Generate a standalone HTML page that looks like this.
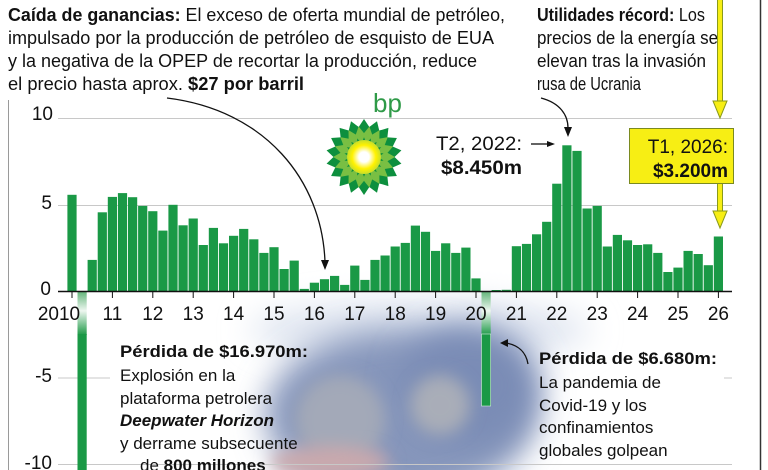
<!DOCTYPE html>
<html><head><meta charset="utf-8"><style>
html,body{margin:0;padding:0;background:#fff;overflow:hidden;width:768px;height:470px;}
svg{display:block;font-family:"Liberation Sans",Arial,sans-serif;}
</style></head><body>
<svg width="768" height="470" viewBox="0 0 768 470" xmlns="http://www.w3.org/2000/svg">
<defs>
<filter id="blur" x="-50%" y="-50%" width="200%" height="200%"><feGaussianBlur stdDeviation="16"/></filter>
<filter id="blur2" x="-50%" y="-50%" width="200%" height="200%"><feGaussianBlur stdDeviation="8"/></filter>
<linearGradient id="neg" x1="0" y1="0" x2="0" y2="1">
<stop offset="0" stop-color="#5fb377"/><stop offset="0.45" stop-color="#eef7f0"/><stop offset="1" stop-color="#1f9a48"/>
</linearGradient>
<radialGradient id="sun" cx="0.5" cy="0.5" r="0.5">
<stop offset="0.3" stop-color="#ffffff"/><stop offset="0.7" stop-color="#fff200"/><stop offset="1" stop-color="#c7de2a"/>
</radialGradient>
<path id="p1" d="M0,-20 L6,-29 L0,-38 L-6,-29 Z" fill="#0d8f3e"/>
<path id="p2" d="M0,-14 L5,-22 L0,-31 L-5,-22 Z" fill="#79bf43"/>
</defs>

<!-- smoke -->
<g>
<ellipse cx="420" cy="330" rx="170" ry="30" fill="#dfe5f0" filter="url(#blur)"/>
<ellipse cx="400" cy="415" rx="135" ry="85" fill="#8696bb" filter="url(#blur)"/>
<ellipse cx="470" cy="385" rx="70" ry="60" fill="#7a8cb6" filter="url(#blur)"/>
<ellipse cx="340" cy="420" rx="45" ry="45" fill="#a3a9b8" filter="url(#blur2)"/>
<ellipse cx="440" cy="405" rx="30" ry="30" fill="#a9adb8" filter="url(#blur2)"/>
<ellipse cx="330" cy="462" rx="60" ry="16" fill="#c9a9ad" filter="url(#blur2)"/>
</g>

<!-- frame -->
<line x1="8.5" y1="100" x2="8.5" y2="470" stroke="#9a9a9a" stroke-width="1"/>
<line x1="760.5" y1="0" x2="760.5" y2="470" stroke="#333" stroke-width="1.5"/>

<!-- grid -->
<g stroke="#c8c8c8" stroke-width="1">
<line x1="58" y1="118.5" x2="732" y2="118.5"/>
<line x1="58" y1="205.5" x2="732" y2="205.5"/>
<line x1="58" y1="378" x2="110" y2="378"/>
<line x1="724" y1="378" x2="732" y2="378"/>
<line x1="58" y1="464.5" x2="732" y2="464.5"/>
</g>

<!-- y labels -->
<g font-size="19" fill="#111" text-anchor="end">
<text x="53" y="120">10</text>
<text x="52" y="209">5</text>
<text x="51" y="295">0</text>
<text x="52" y="382">-5</text>
<text x="52" y="469">-10</text>
</g>

<!-- logo -->
<g transform="translate(364,157)">
<circle r="24" fill="#0d8f3e"/>
<use href="#p1"/><use href="#p1" transform="rotate(20)"/><use href="#p1" transform="rotate(40)"/><use href="#p1" transform="rotate(60)"/><use href="#p1" transform="rotate(80)"/><use href="#p1" transform="rotate(100)"/><use href="#p1" transform="rotate(120)"/><use href="#p1" transform="rotate(140)"/><use href="#p1" transform="rotate(160)"/><use href="#p1" transform="rotate(180)"/><use href="#p1" transform="rotate(200)"/><use href="#p1" transform="rotate(220)"/><use href="#p1" transform="rotate(240)"/><use href="#p1" transform="rotate(260)"/><use href="#p1" transform="rotate(280)"/><use href="#p1" transform="rotate(300)"/><use href="#p1" transform="rotate(320)"/><use href="#p1" transform="rotate(340)"/>
<g transform="rotate(10)">
<use href="#p2"/><use href="#p2" transform="rotate(20)"/><use href="#p2" transform="rotate(40)"/><use href="#p2" transform="rotate(60)"/><use href="#p2" transform="rotate(80)"/><use href="#p2" transform="rotate(100)"/><use href="#p2" transform="rotate(120)"/><use href="#p2" transform="rotate(140)"/><use href="#p2" transform="rotate(160)"/><use href="#p2" transform="rotate(180)"/><use href="#p2" transform="rotate(200)"/><use href="#p2" transform="rotate(220)"/><use href="#p2" transform="rotate(240)"/><use href="#p2" transform="rotate(260)"/><use href="#p2" transform="rotate(280)"/><use href="#p2" transform="rotate(300)"/><use href="#p2" transform="rotate(320)"/><use href="#p2" transform="rotate(340)"/>
</g>
<circle r="17" fill="url(#sun)"/>
</g>
<text x="373" y="112" font-size="26" fill="#2f9a48">bp</text>

<!-- positive bars -->
<g transform="translate(0,291) scale(1,-1)" fill="#1a9946">
<rect x="67.4" y="0" width="9.2" height="96.2"/>
<rect x="87.6" y="0" width="9.2" height="31.1"/>
<rect x="97.7" y="0" width="9.2" height="78.7"/>
<rect x="107.8" y="0" width="9.2" height="94.1"/>
<rect x="117.9" y="0" width="9.2" height="97.9"/>
<rect x="128.0" y="0" width="9.2" height="93.8"/>
<rect x="138.1" y="0" width="9.2" height="85.1"/>
<rect x="148.2" y="0" width="9.2" height="79.8"/>
<rect x="158.3" y="0" width="9.2" height="60.4"/>
<rect x="168.4" y="0" width="9.2" height="86.2"/>
<rect x="178.5" y="0" width="9.2" height="65.7"/>
<rect x="188.6" y="0" width="9.2" height="72.5"/>
<rect x="198.7" y="0" width="9.2" height="46.0"/>
<rect x="208.8" y="0" width="9.2" height="63.1"/>
<rect x="218.9" y="0" width="9.2" height="47.7"/>
<rect x="229.0" y="0" width="9.2" height="55.2"/>
<rect x="239.1" y="0" width="9.2" height="62.1"/>
<rect x="249.2" y="0" width="9.2" height="51.7"/>
<rect x="259.3" y="0" width="9.2" height="38.1"/>
<rect x="269.4" y="0" width="9.2" height="43.8"/>
<rect x="279.5" y="0" width="9.2" height="22.0"/>
<rect x="289.6" y="0" width="9.2" height="30.4"/>
<rect x="299.7" y="0" width="9.2" height="2.1"/>
<rect x="309.8" y="0" width="9.2" height="8.3"/>
<rect x="319.9" y="0" width="9.2" height="11.8"/>
<rect x="330.0" y="0" width="9.2" height="15.1"/>
<rect x="340.1" y="0" width="9.2" height="6.1"/>
<rect x="350.2" y="0" width="9.2" height="25.4"/>
<rect x="360.3" y="0" width="9.2" height="11.1"/>
<rect x="370.4" y="0" width="9.2" height="31.1"/>
<rect x="380.5" y="0" width="9.2" height="35.5"/>
<rect x="390.6" y="0" width="9.2" height="44.5"/>
<rect x="400.7" y="0" width="9.2" height="48.1"/>
<rect x="410.8" y="0" width="9.2" height="65.4"/>
<rect x="420.9" y="0" width="9.2" height="59.2"/>
<rect x="431.0" y="0" width="9.2" height="40.1"/>
<rect x="441.1" y="0" width="9.2" height="47.7"/>
<rect x="451.2" y="0" width="9.2" height="38.1"/>
<rect x="461.3" y="0" width="9.2" height="43.4"/>
<rect x="471.4" y="0" width="9.2" height="12.6"/>
<rect x="491.6" y="0" width="9.2" height="1"/>
<rect x="501.7" y="0" width="9.2" height="1.2"/>
<rect x="511.8" y="0" width="9.2" height="44.8"/>
<rect x="521.9" y="0" width="9.2" height="47.1"/>
<rect x="532.0" y="0" width="9.2" height="56.7"/>
<rect x="542.1" y="0" width="9.2" height="69.2"/>
<rect x="552.2" y="0" width="9.2" height="107.3"/>
<rect x="562.3" y="0" width="9.2" height="145.7"/>
<rect x="572.4" y="0" width="9.2" height="140.1"/>
<rect x="582.5" y="0" width="9.2" height="82.5"/>
<rect x="592.6" y="0" width="9.2" height="85.1"/>
<rect x="602.7" y="0" width="9.2" height="44.5"/>
<rect x="612.8" y="0" width="9.2" height="56.1"/>
<rect x="622.9" y="0" width="9.2" height="50.7"/>
<rect x="633.0" y="0" width="9.2" height="46.0"/>
<rect x="643.1" y="0" width="9.2" height="46.7"/>
<rect x="653.2" y="0" width="9.2" height="38.1"/>
<rect x="663.3" y="0" width="9.2" height="19.0"/>
<rect x="673.4" y="0" width="9.2" height="23.4"/>
<rect x="683.5" y="0" width="9.2" height="40.1"/>
<rect x="693.6" y="0" width="9.2" height="37.0"/>
<rect x="703.7" y="0" width="9.2" height="25.8"/>
<rect x="713.8" y="0" width="9.2" height="54.5"/>
</g>

<!-- negative bars -->
<rect x="77.5" y="291" width="9.2" height="44" fill="url(#neg)"/>
<rect x="77.5" y="334" width="9.2" height="136" fill="#1a9946"/>
<rect x="481.5" y="291" width="9.2" height="44" fill="url(#neg)"/>
<rect x="481.5" y="334" width="9.2" height="72" fill="#1a9946" stroke="#d8efe0" stroke-width="0.6"/>

<!-- axis -->
<line x1="58" y1="291.5" x2="732" y2="291.5" stroke="#111" stroke-width="1.5"/>
<g stroke="#111" stroke-width="1">
<line x1="72" y1="292" x2="72" y2="298"/><line x1="112.4" y1="292" x2="112.4" y2="298"/><line x1="152.8" y1="292" x2="152.8" y2="298"/><line x1="193.2" y1="292" x2="193.2" y2="298"/><line x1="233.6" y1="292" x2="233.6" y2="298"/><line x1="274" y1="292" x2="274" y2="298"/><line x1="314.4" y1="292" x2="314.4" y2="298"/><line x1="354.8" y1="292" x2="354.8" y2="298"/><line x1="395.2" y1="292" x2="395.2" y2="298"/><line x1="435.6" y1="292" x2="435.6" y2="298"/><line x1="476" y1="292" x2="476" y2="298"/><line x1="516.4" y1="292" x2="516.4" y2="298"/><line x1="556.8" y1="292" x2="556.8" y2="298"/><line x1="597.2" y1="292" x2="597.2" y2="298"/><line x1="637.6" y1="292" x2="637.6" y2="298"/><line x1="678" y1="292" x2="678" y2="298"/><line x1="718.4" y1="292" x2="718.4" y2="298"/>
</g>
<g font-size="19" fill="#111" text-anchor="middle">
<text x="59" y="320">2010</text>
<text x="112.4" y="320">11</text><text x="152.8" y="320">12</text><text x="193.2" y="320">13</text><text x="233.6" y="320">14</text><text x="274" y="320">15</text><text x="314.4" y="320">16</text><text x="354.8" y="320">17</text><text x="395.2" y="320">18</text><text x="435.6" y="320">19</text><text x="476" y="320">20</text><text x="516.4" y="320">21</text><text x="556.8" y="320">22</text><text x="597.2" y="320">23</text><text x="637.6" y="320">24</text><text x="678" y="320">25</text><text x="718.4" y="320">26</text>
</g>

<!-- top texts -->
<g font-size="18" fill="#111">
<text x="8" y="21" textLength="497" lengthAdjust="spacingAndGlyphs"><tspan font-weight="bold">Caída de ganancias:</tspan> El exceso de oferta mundial de petróleo,</text>
<text x="8" y="44" textLength="486" lengthAdjust="spacingAndGlyphs">impulsado por la producción de petróleo de esquisto de EUA</text>
<text x="8" y="67" textLength="469" lengthAdjust="spacingAndGlyphs">y la negativa de la OPEP de recortar la producción, reduce</text>
<text x="8" y="90" textLength="296" lengthAdjust="spacingAndGlyphs">el precio hasta aprox. <tspan font-weight="bold">$27 por barril</tspan></text>
<text x="537" y="21" textLength="168" lengthAdjust="spacingAndGlyphs"><tspan font-weight="bold">Utilidades récord:</tspan> Los</text>
<text x="537" y="44" textLength="181" lengthAdjust="spacingAndGlyphs">precios de la energía se</text>
<text x="537" y="67" textLength="169" lengthAdjust="spacingAndGlyphs">elevan tras la invasión</text>
<text x="537" y="90" textLength="104" lengthAdjust="spacingAndGlyphs">rusa de Ucrania</text>
</g>

<!-- arrows -->
<g fill="none" stroke="#111" stroke-width="1.3">
<path d="M167 98 C265 110 322 180 325 262"/>
<path d="M541 98 C560 103 568 115 568 128"/>
<path d="M528 364 C526 352 518 345 506 343"/>
<path d="M531 144 L547 144"/>
</g>
<g fill="#111">
<path d="M321 260 L329 260 L325 270 Z"/>
<path d="M564 127 L572 127 L568 137 Z"/>
<path d="M508 339 L508 347 L500 343 Z"/>
<path d="M547 141 L547 147 L555 144 Z"/>
</g>

<!-- T2 annotation -->
<text x="436" y="150" font-size="19" fill="#111" textLength="86" lengthAdjust="spacingAndGlyphs">T2, 2022:</text>
<text x="441" y="174" font-size="19" font-weight="bold" fill="#111" textLength="81" lengthAdjust="spacingAndGlyphs">$8.450m</text>

<!-- yellow arrows & box -->
<g fill="#f7ee14" stroke="#8a9a1a" stroke-width="1">
<rect x="717.5" y="-2" width="5" height="105"/>
<path d="M713 101 L727 101 L720 118 Z"/>
<rect x="717.5" y="183" width="5" height="30"/>
<path d="M713 211 L727 211 L720 228 Z"/>
<rect x="629.5" y="128.5" width="104" height="55" stroke="#7a8a20"/>
</g>
<text x="728" y="153" font-size="19" fill="#111" text-anchor="end">T1, 2026:</text>
<text x="728" y="177" font-size="19" font-weight="bold" fill="#111" text-anchor="end">$3.200m</text>

<!-- bottom left text -->
<g font-size="17" fill="#111">
<text x="120" y="357" font-weight="bold" textLength="188" lengthAdjust="spacingAndGlyphs">Pérdida de $16.970m:</text>
<text x="120" y="381">Explosión en la</text>
<text x="120" y="404">plataforma petrolera</text>
<text x="120" y="426" font-weight="bold" font-style="italic">Deepwater Horizon</text>
<text x="120" y="449">y derrame subsecuente</text>
<text x="140" y="471">de <tspan font-weight="bold">800 millones</tspan></text>
</g>

<!-- bottom right text -->
<g font-size="17" fill="#111">
<text x="539" y="364" font-weight="bold" textLength="178" lengthAdjust="spacingAndGlyphs">Pérdida de $6.680m:</text>
<text x="539" y="388">La pandemia de</text>
<text x="539" y="411">Covid-19 y los</text>
<text x="539" y="433">confinamientos</text>
<text x="539" y="456">globales golpean</text>
</g>
</svg>
</body></html>
